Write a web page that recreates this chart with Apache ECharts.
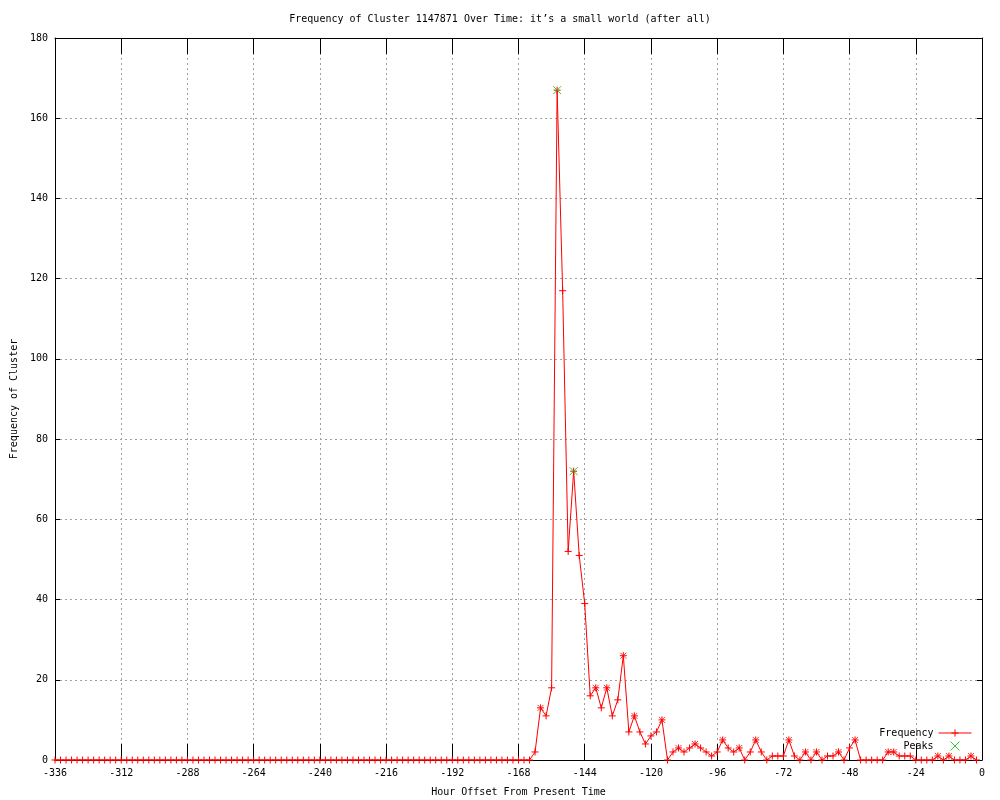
<!DOCTYPE html>
<html>
<head>
<meta charset="utf-8">
<script src="https://cdn.jsdelivr.net/npm/echarts@6/dist/echarts.min.js"></script>
<style>
html,body{margin:0;padding:0;background:#fff;}
#chart{width:1000px;height:800px;}
</style>
</head>
<body>
<div id="chart"></div>
<script>
// Hour offsets (every 2 hours)
const hours = [
-336,-334,-332,-330,-328,-326,-324,-322,-320,-318,-316,-314,-312,-310,-308,-306,-304,-302,-300,-298,
-296,-294,-292,-290,-288,-286,-284,-282,-280,-278,-276,-274,-272,-270,-268,-266,-264,-262,-260,-258,
-256,-254,-252,-250,-248,-246,-244,-242,-240,-238,-236,-234,-232,-230,-228,-226,-224,-222,-220,-218,
-216,-214,-212,-210,-208,-206,-204,-202,-200,-198,-196,-194,-192,-190,-188,-186,-184,-182,-180,-178,
-176,-174,-172,-170,-168,-166,-164,-162,-160,-158,-156,-154,-152,-150,-148,-146,-144,-142,-140,-138,
-136,-134,-132,-130,-128,-126,-124,-122,-120,-118,-116,-114,-112,-110,-108,-106,-104,-102,-100,-98,
-96,-94,-92,-90,-88,-86,-84,-82,-80,-78,-76,-74,-72,-70,-68,-66,-64,-62,-60,-58,
-56,-54,-52,-50,-48,-46,-44,-42,-40,-38,-36,-34,-32,-30,-28,-26,-24,-22,-20,-18,
-16,-14,-12,-10,-8,-6,-4,-2
];
// Frequency values
const freq = [
0,0,0,0,0,0,0,0,0,0,0,0,0,0,0,0,0,0,0,0,
0,0,0,0,0,0,0,0,0,0,0,0,0,0,0,0,0,0,0,0,
0,0,0,0,0,0,0,0,0,0,0,0,0,0,0,0,0,0,0,0,
0,0,0,0,0,0,0,0,0,0,0,0,0,0,0,0,0,0,0,0,
0,0,0,0,0,0,0,2,13,11,18,167,117,52,72,51,39,16,18,13,
18,11,15,26,7,11,7,4,6,7,10,0,2,3,2,3,4,3,2,1,
2,5,3,2,3,0,2,5,2,0,1,1,1,5,1,0,2,0,2,0,
1,1,2,0,3,5,0,0,0,0,0,2,2,1,1,1,0,0,0,0,
1,0,1,0,0,0,1,0
];
// Hours where the frequency marker is drawn as a star (local maxima)
const starHours = [-160,-140,-136,-130,-126,-116,-110,-104,-94,-88,-82,-70,-64,-60,-52,-46,-34,-32,-16,-12,-4];
// Detected peaks
const peakHours = [-154,-148];
const peakValues = [167,72];
// Axis ticks
const xTicks = {min:-336, max:0, interval:24};
const yTicks = {min:0, max:180, interval:20};

const FONT = '"DejaVu Sans Mono", "Liberation Mono", monospace';
const freqData = hours.map((h,i)=>[h,freq[i]]);
const starData = starHours.map(h=>[h,freq[hours.indexOf(h)]]);
const peakData = peakHours.map((h,i)=>[h,peakValues[i]]);

const PLUS = 'path://M3.5,0L3.5,7M0,3.5L7,3.5';
const CROSS = 'path://M0,0L7,7M7,0L0,7';

const chart = echarts.init(document.getElementById('chart'), null, {renderer:'canvas'});
const txt = {color:'#000', fontFamily:FONT, fontSize:10};
chart.setOption({
  animation:false,
  backgroundColor:'#fff',
  title:{text:'Frequency of Cluster 1147871 Over Time: it\u2019s a small world (after all)', left:'center', top:9,
    textStyle:{color:'#000', fontFamily:FONT, fontSize:10, fontWeight:'normal'}},
  grid:{left:55, right:18, top:38, bottom:40, containLabel:false, outerBoundsMode:'none'},
  legend:{data:['Frequency','Peaks'], orient:'vertical', right:23, top:723, align:'right',
    itemWidth:33, itemHeight:9, itemGap:3, textStyle:txt, selectedMode:false,
    lineStyle:{width:1}, itemStyle:{borderWidth:1}},
  xAxis:[{
    type:'value', min:xTicks.min, max:xTicks.max, interval:xTicks.interval, position:'bottom',
    name:'Hour Offset From Present Time', nameLocation:'middle', nameGap:27, nameTextStyle:txt,
    axisLine:{show:true, onZero:false, lineStyle:{color:'#000', width:1}},
    axisTick:{show:true, inside:true, length:16, lineStyle:{color:'#000'}},
    axisLabel:{...txt, margin:8},
    splitLine:{show:true, lineStyle:{color:'#a0a0a0', type:[2,3], width:1}}
  },{
    type:'value', min:xTicks.min, max:xTicks.max, interval:xTicks.interval, position:'top',
    axisLine:{show:true, onZero:false, lineStyle:{color:'#000', width:1}},
    axisTick:{show:true, inside:true, length:16, lineStyle:{color:'#000'}},
    axisLabel:{show:false}, splitLine:{show:false}
  }],
  yAxis:[{
    type:'value', min:yTicks.min, max:yTicks.max, interval:yTicks.interval, position:'left',
    name:'Frequency of Cluster', nameLocation:'middle', nameGap:36, nameTextStyle:txt,
    axisLine:{show:true, onZero:false, lineStyle:{color:'#000', width:1}},
    axisTick:{show:true, inside:true, length:5, lineStyle:{color:'#000'}},
    axisLabel:{...txt, margin:7},
    splitLine:{show:true, lineStyle:{color:'#a0a0a0', type:[2,3], width:1}}
  },{
    type:'value', min:yTicks.min, max:yTicks.max, interval:yTicks.interval, position:'right',
    axisLine:{show:true, onZero:false, lineStyle:{color:'#000', width:1}},
    axisTick:{show:true, inside:true, length:5, lineStyle:{color:'#000'}},
    axisLabel:{show:false}, splitLine:{show:false}
  }],
  series:[{
    name:'Frequency', type:'line', data:freqData, clip:false,
    symbol:PLUS, symbolSize:7, showAllSymbol:true,
    lineStyle:{color:'#ff0000', width:1},
    itemStyle:{color:'#ff0000', borderColor:'#ff0000', borderWidth:1},
    emphasis:{disabled:true}, z:3
  },{
    name:'stars', type:'scatter', data:starData, clip:false,
    symbol:CROSS, symbolSize:6,
    itemStyle:{color:'#ff0000', borderColor:'#ff0000', borderWidth:1},
    emphasis:{disabled:true}, z:4
  },{
    name:'Peaks', type:'scatter', data:peakData, clip:false,
    symbol:CROSS, symbolSize:8,
    itemStyle:{color:'#00c000', borderColor:'#00c000', borderWidth:1},
    emphasis:{disabled:true}, z:5
  }]
});
</script>
</body>
</html>
